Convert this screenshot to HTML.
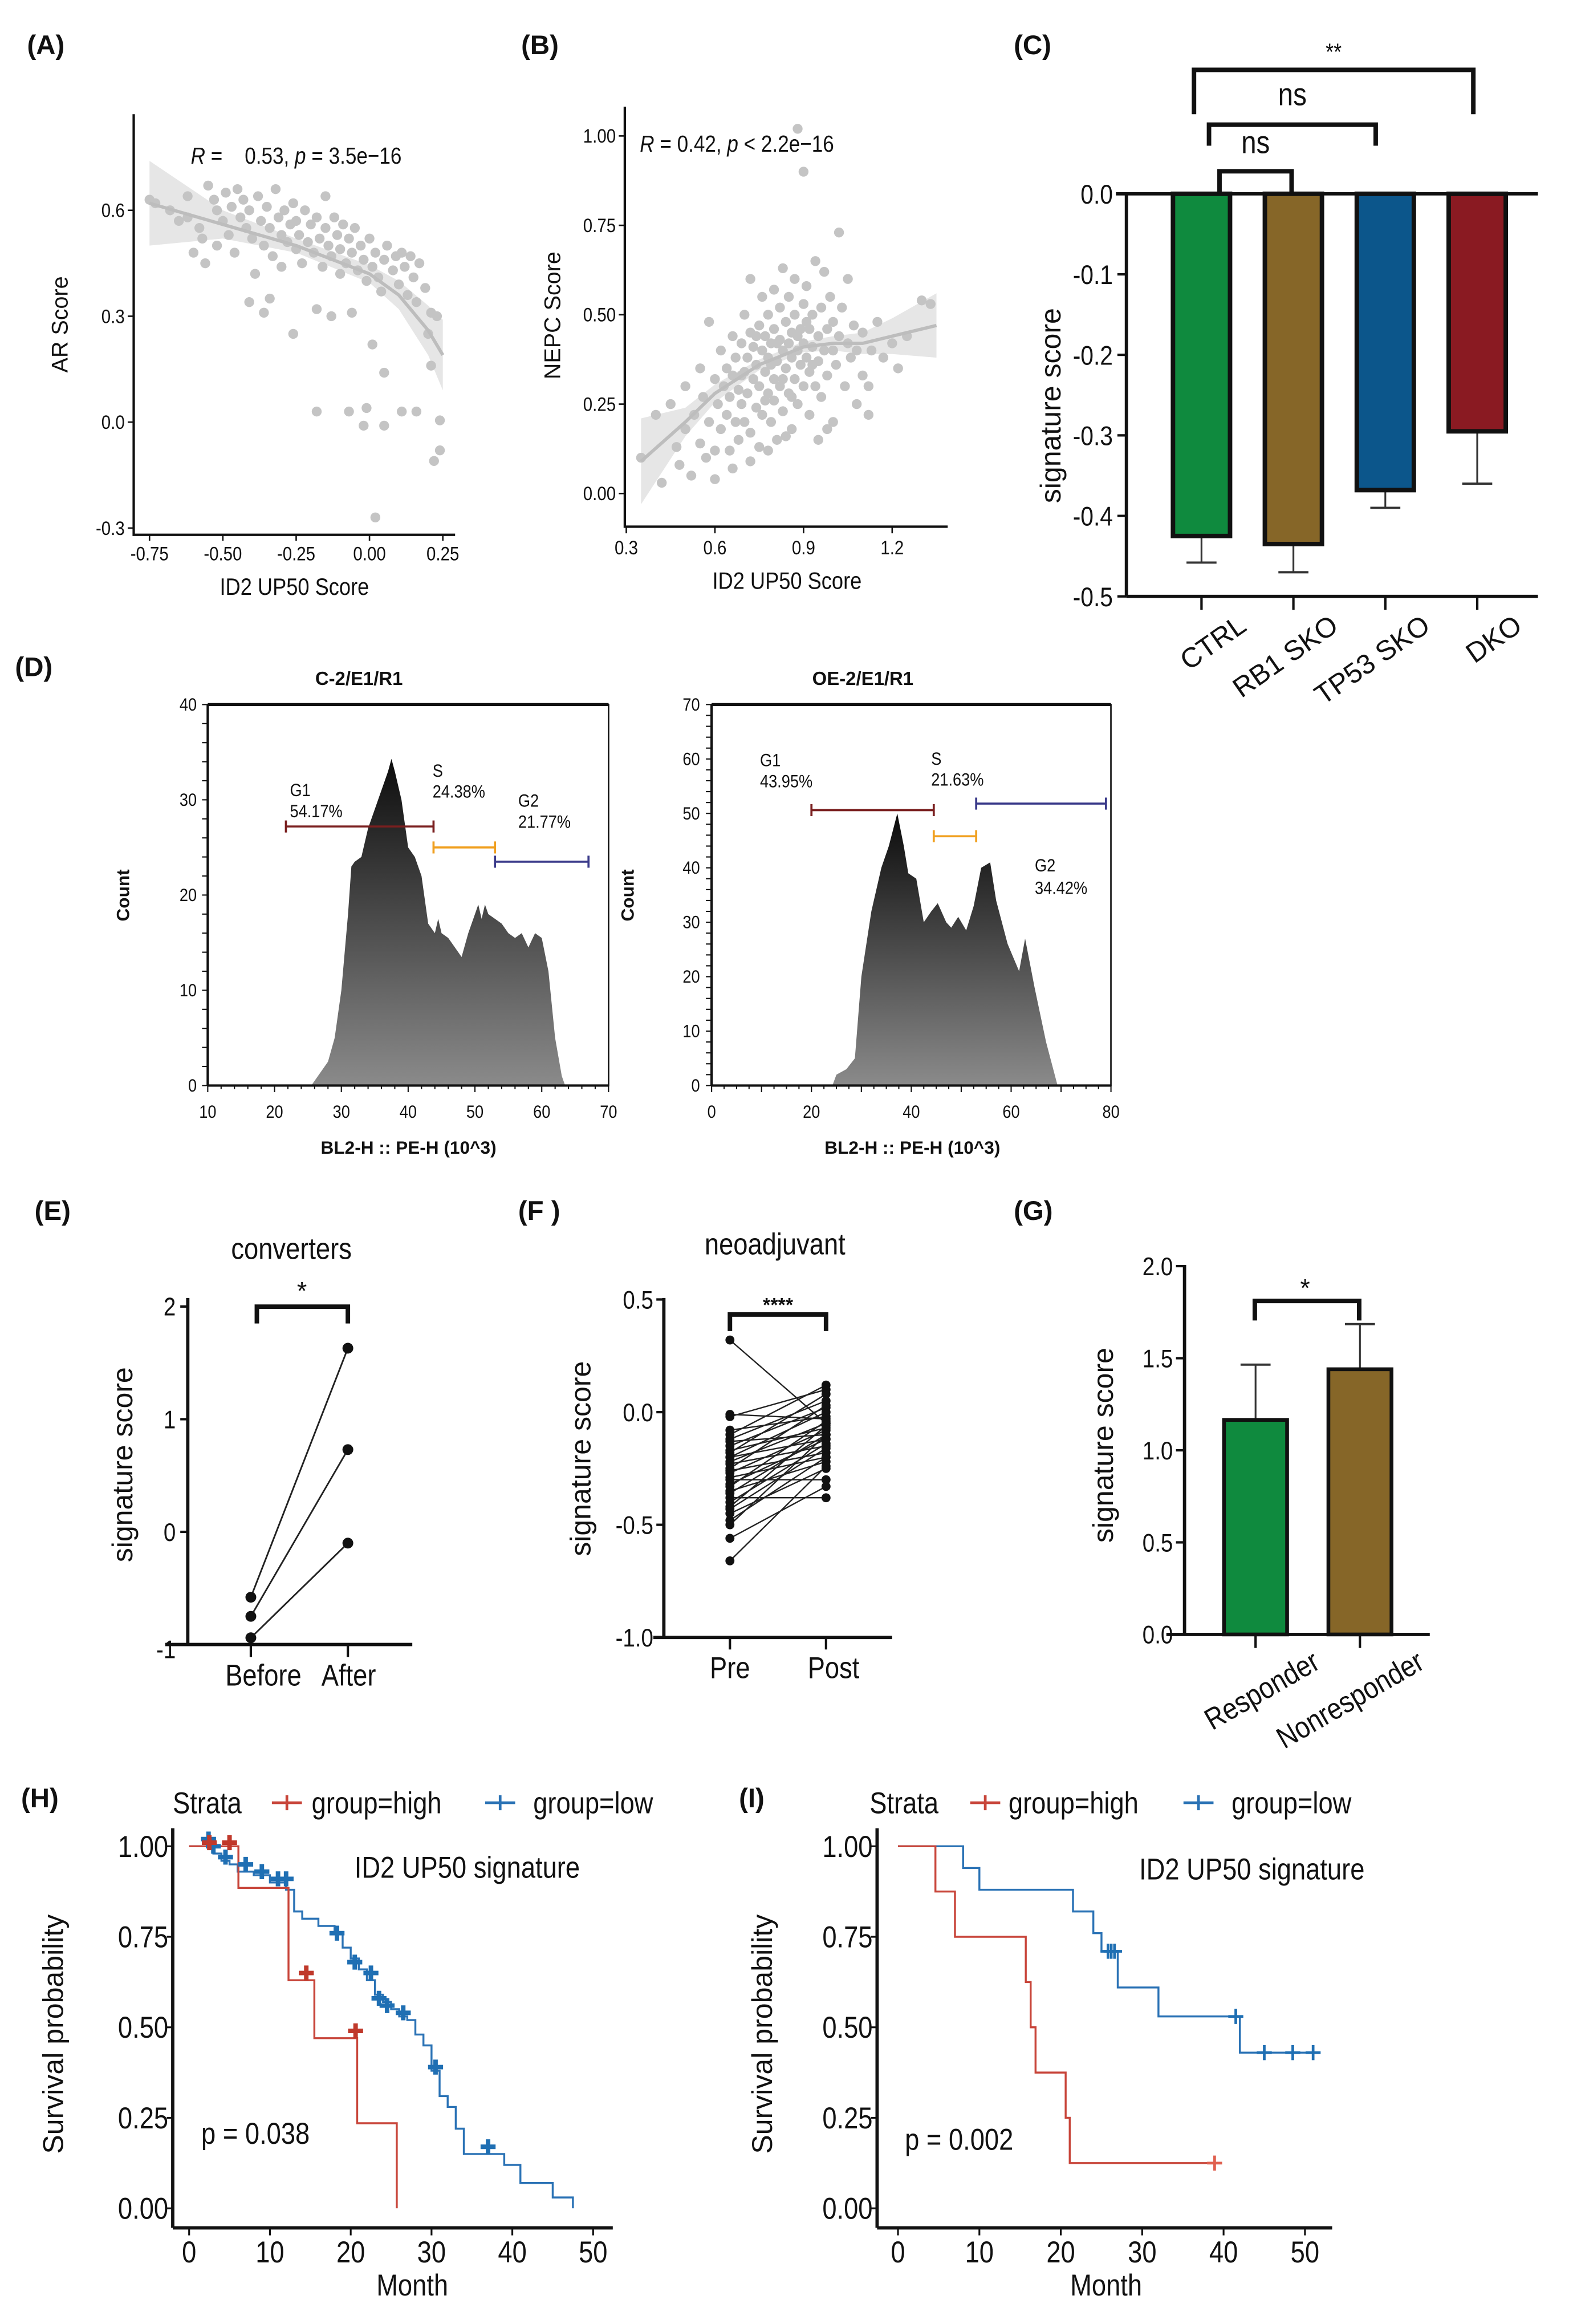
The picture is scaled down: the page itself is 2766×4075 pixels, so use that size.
<!DOCTYPE html>
<html><head><meta charset="utf-8">
<style>
html,body{margin:0;padding:0;background:#fff;}
svg{display:block;}
text{font-family:"Liberation Sans",Arial,sans-serif;fill:#111;}
.n{font-family:"Liberation Sans Narrow","Liberation Sans",sans-serif;}
</style></head>
<body>
<svg id="fig" xmlns="http://www.w3.org/2000/svg" width="2766" height="4075" viewBox="0 0 1050 1547">
<defs>
<linearGradient id="gL" gradientUnits="userSpaceOnUse" x1="0" y1="500" x2="0" y2="722"><stop offset="0" stop-color="#0a0a0a"/><stop offset="1" stop-color="#8a8a8a"/></linearGradient>
<linearGradient id="gR" gradientUnits="userSpaceOnUse" x1="0" y1="540" x2="0" y2="722"><stop offset="0" stop-color="#0a0a0a"/><stop offset="1" stop-color="#8a8a8a"/></linearGradient>
</defs>
<rect x="0" y="0" width="1050" height="1547" fill="#fff"/>
<text x="18" y="36" font-size="18" font-weight="bold">(A)</text>
<text x="347" y="36" font-size="18" font-weight="bold">(B)</text>
<text x="675" y="36" font-size="18" font-weight="bold">(C)</text>
<text x="10" y="450" font-size="18" font-weight="bold">(D)</text>
<text x="23" y="812" font-size="18" font-weight="bold">(E)</text>
<text x="345" y="812" font-size="18" font-weight="bold">(F )</text>
<text x="675" y="812" font-size="18" font-weight="bold">(G)</text>
<text x="14" y="1203" font-size="18" font-weight="bold">(H)</text>
<text x="492" y="1203" font-size="18" font-weight="bold">(I)</text>
<g id="root"></g>
</svg>
<script>
// ===== DATA =====
const aX=[-0.75,-0.62,-0.73,-0.68,-0.62,-0.58,-0.57,-0.55,-0.53,-0.52,-0.50,-0.49,-0.48,-0.47,-0.46,-0.45,-0.44,-0.43,-0.42,-0.41,-0.40,-0.39,-0.38,-0.37,-0.36,-0.35,-0.34,-0.33,-0.32,-0.31,-0.30,-0.30,-0.29,-0.28,-0.27,-0.26,-0.25,-0.25,-0.24,-0.23,-0.22,-0.21,-0.20,-0.19,-0.18,-0.17,-0.16,-0.15,-0.15,-0.14,-0.13,-0.12,-0.11,-0.10,-0.10,-0.09,-0.08,-0.07,-0.06,-0.05,-0.04,-0.03,-0.02,-0.01,0.00,0.01,0.02,0.03,0.04,0.05,0.06,0.08,0.09,0.10,0.11,0.12,0.13,0.14,0.15,0.16,0.17,0.19,0.20,0.21,0.23,-0.41,-0.36,-0.34,-0.18,-0.13,-0.06,-0.26,-0.18,-0.07,-0.01,-0.02,0.05,0.11,0.16,0.24,0.24,0.22,0.02,0.01,0.05,0.21,-0.60,-0.56,-0.52,-0.65];
const aY=[0.63,0.64,0.62,0.60,0.58,0.55,0.52,0.67,0.63,0.60,0.57,0.65,0.53,0.61,0.48,0.66,0.58,0.63,0.55,0.60,0.52,0.42,0.64,0.57,0.50,0.61,0.55,0.47,0.66,0.58,0.53,0.44,0.60,0.51,0.56,0.62,0.49,0.57,0.53,0.45,0.60,0.51,0.56,0.48,0.58,0.52,0.44,0.55,0.64,0.50,0.47,0.58,0.53,0.42,0.49,0.56,0.45,0.52,0.48,0.55,0.43,0.50,0.46,0.40,0.52,0.44,0.48,0.41,0.37,0.46,0.50,0.43,0.47,0.39,0.48,0.44,0.36,0.47,0.41,0.34,0.45,0.38,0.25,0.31,0.30,0.34,0.31,0.35,0.32,0.30,0.31,0.25,0.03,0.03,0.04,-0.01,-0.01,0.03,0.03,0.005,-0.08,-0.11,-0.27,0.22,0.14,0.16,0.48,0.45,0.50,0.57];
const aFitX=[-0.75,-0.5,-0.25,0,0.1,0.2,0.25];
const aFitY=[0.62,0.56,0.50,0.42,0.36,0.26,0.19];
const aFitSE=[0.12,0.04,0.02,0.025,0.04,0.07,0.1];
const aTicksX=[-0.75,-0.5,-0.25,0,0.25], aTickLabX=["-0.75","-0.50","-0.25","0.00","0.25"];
const aTicksY=[0.6,0.3,0,-0.3], aTickLabY=["0.6","0.3","0.0","-0.3"];
const bPts=[[0.35,0.1],[0.4,0.22],[0.42,0.03],[0.45,0.25],[0.47,0.13],[0.48,0.08],[0.5,0.3],[0.5,0.18],[0.52,0.05],[0.53,0.22],[0.55,0.35],[0.55,0.14],[0.56,0.27],[0.57,0.1],[0.58,0.48],[0.58,0.2],[0.6,0.32],[0.6,0.12],[0.6,0.04],[0.61,0.25],[0.62,0.4],[0.62,0.18],[0.63,0.3],[0.64,0.35],[0.64,0.22],[0.65,0.27],[0.65,0.12],[0.66,0.44],[0.66,0.33],[0.67,0.2],[0.67,0.38],[0.68,0.29],[0.68,0.15],[0.69,0.42],[0.69,0.25],[0.7,0.34],[0.7,0.5],[0.7,0.2],[0.71,0.38],[0.71,0.28],[0.72,0.45],[0.72,0.6],[0.72,0.17],[0.73,0.32],[0.73,0.41],[0.74,0.24],[0.74,0.36],[0.75,0.47],[0.75,0.3],[0.75,0.13],[0.76,0.4],[0.76,0.55],[0.76,0.22],[0.77,0.34],[0.77,0.44],[0.78,0.28],[0.78,0.5],[0.78,0.38],[0.79,0.2],[0.79,0.42],[0.8,0.32],[0.8,0.57],[0.8,0.46],[0.8,0.26],[0.81,0.37],[0.81,0.15],[0.82,0.43],[0.82,0.52],[0.82,0.3],[0.83,0.4],[0.83,0.63],[0.83,0.23],[0.84,0.35],[0.84,0.48],[0.85,0.28],[0.85,0.42],[0.85,0.55],[0.86,0.38],[0.86,0.18],[0.86,0.45],[0.87,0.5],[0.87,0.32],[0.87,0.6],[0.88,0.4],[0.88,0.25],[0.88,1.02],[0.89,0.46],[0.89,0.36],[0.9,0.9],[0.9,0.53],[0.9,0.3],[0.9,0.42],[0.91,0.38],[0.91,0.58],[0.92,0.46],[0.92,0.22],[0.92,0.34],[0.93,0.5],[0.93,0.41],[0.94,0.3],[0.94,0.65],[0.95,0.44],[0.95,0.37],[0.96,0.52],[0.96,0.27],[0.97,0.4],[0.97,0.62],[0.98,0.46],[0.98,0.33],[0.99,0.55],[1.0,0.4],[1.0,0.2],[1.0,0.48],[1.01,0.36],[1.02,0.73],[1.02,0.44],[1.03,0.52],[1.04,0.3],[1.05,0.42],[1.05,0.6],[1.06,0.38],[1.07,0.47],[1.08,0.25],[1.08,0.4],[1.1,0.33],[1.1,0.45],[1.12,0.22],[1.13,0.4],[1.15,0.48],[1.17,0.38],[1.2,0.42],[1.22,0.35],[1.3,0.54],[1.33,0.53],[1.25,0.44],[0.66,0.07],[0.72,0.09],[0.78,0.12],[0.84,0.16],[0.95,0.15],[0.98,0.18],[1.12,0.3],[0.74,0.44],[0.79,0.36],[0.83,0.32],[0.88,0.44],[0.91,0.48],[0.77,0.26],[0.69,0.33],[0.86,0.27],[0.93,0.36],[0.81,0.42]];
const bFitX=[0.35,0.5,0.6,0.75,0.9,1.0,1.1,1.2,1.35];
const bFitY=[0.09,0.2,0.28,0.36,0.41,0.42,0.42,0.44,0.47];
const bFitSE=[0.12,0.04,0.025,0.015,0.015,0.02,0.03,0.05,0.09];
const bTicksX=[0.3,0.6,0.9,1.2], bTickLabX=["0.3","0.6","0.9","1.2"];
const bTicksY=[1,0.75,0.5,0.25,0], bTickLabY=["1.00","0.75","0.50","0.25","0.00"];
const cCats=["CTRL","RB1 SKO","TP53 SKO","DKO"];
const cVals=[-0.425,-0.435,-0.368,-0.295];
const cErr=[-0.458,-0.470,-0.390,-0.360];
const cColors=["#0f8a3e","#866628","#0c568b","#8a1a22"];
const cTicks=[0,-0.1,-0.2,-0.3,-0.4,-0.5], cTickLab=["0.0","-0.1","-0.2","-0.3","-0.4","-0.5"];
const dLX=[25.5,27,28,29,30,31,31.5,32,33,34,35,36,37,37.5,38,39,40,41,42,43,44,44.5,45,46,47,48,49,50,50.5,51,51.5,52,53,54,55,56,57,58,59,60,61,62,63,63.5];
const dLY=[0,1.5,2.5,5,10,18,23,23.5,24,27,29,31,33,34.3,33,30,25,24,22,17,16,17.5,16,15.5,14.5,13.5,16,18,19,17.5,19,18,17.5,17,16,15.5,16,14.5,16,15.5,12,5,1,0];
const dRX=[24.2,25,27,28.7,30,32,34,35.5,37.2,38.5,39.4,41,42.5,44,45.3,47,48,49.4,51,52.5,54,55.8,57,59.3,61.6,62.8,64.7,67,69.3];
const dRY=[0,2,3,5,20,32,40,44,50,44,39,38,30,32,33.5,30,29,31,28.5,33,40,41,34,26,21,27,18,8,0];
const eBefore=[-0.58,-0.75,-0.94], eAfter=[1.63,0.73,-0.10];
const fPre=[0.32,-0.01,-0.02,-0.08,-0.1,-0.12,-0.13,-0.15,-0.17,-0.18,-0.2,-0.2,-0.22,-0.23,-0.25,-0.26,-0.27,-0.29,-0.3,-0.32,-0.33,-0.35,-0.36,-0.38,-0.4,-0.42,-0.43,-0.45,-0.48,-0.5,-0.56,-0.66];
const fPost=[-0.05,-0.03,0.1,-0.02,0.12,0.05,-0.1,0.02,-0.07,0.08,-0.12,0.0,-0.05,-0.15,0.03,-0.18,-0.08,-0.2,-0.3,-0.12,-0.04,-0.22,-0.1,-0.38,-0.14,-0.06,-0.16,-0.25,-0.2,-0.1,-0.33,-0.24];
const gCats=["Responder","Nonresponder"], gVals=[1.165,1.44], gErr=[1.465,1.685], gColors=["#0f8a3e","#866628"];
const hHighT=[6.1,12.3,15.5,20.8,25.7], hHighS=[0.885,0.63,0.47,0.235,0];
const hHighCT=[2.5,5,14.5,20.6], hHighCS=[1.01,1.01,0.65,0.49];
const hLowT=[3,4,5,6,8,10,12,13,14,16,18,19,20,21,22,23,24,25,26,27,28,29,30,31,32,33,34,36,39,41,45,47.5];
const hLowS=[0.98,0.96,0.95,0.93,0.92,0.9,0.88,0.82,0.8,0.78,0.76,0.72,0.69,0.66,0.63,0.59,0.57,0.55,0.53,0.52,0.48,0.45,0.38,0.31,0.28,0.22,0.15,0.15,0.12,0.07,0.03,0];
const hLowCT=[2.4,3,4.5,7,9,11,12,18.3,20.5,22.5,23.5,24.5,26.5,30.5,37];
const hLowCS=[1.02,1.0,0.97,0.95,0.93,0.91,0.91,0.76,0.68,0.65,0.58,0.56,0.54,0.39,0.17];
const iHighT=[4.6,7,15.7,16.3,16.9,20.6,21.1], iHighS=[0.875,0.75,0.625,0.5,0.375,0.25,0.125], iHighEnd=39;
const iHighCT=[38.9], iHighCS=[0.125];
const iLowT=[8,10,21.5,24,25,27,32,42], iLowS=[0.94,0.88,0.82,0.76,0.71,0.61,0.53,0.43], iLowEnd=51.5;
const iLowCT=[25.8,26.2,26.6,41.5,45,48.5,51], iLowCS=[0.71,0.71,0.71,0.53,0.43,0.43,0.43];
const kmTicksX=[0,10,20,30,40,50], kmTicksY=[1,0.75,0.5,0.25,0], kmTickLabY=["1.00","0.75","0.50","0.25","0.00"];

// ===== DRAW =====
const NS="http://www.w3.org/2000/svg";
const root=document.getElementById("root");
const SX=0.86;
function mk(tag,attrs,parent){const e=document.createElementNS(NS,tag);for(const k in attrs)e.setAttribute(k,attrs[k]);(parent||root).appendChild(e);return e;}
function tx(x,y,s,size,extra){
 const ex=Object.assign({},extra||{});
 let a;
 if(ex["class"]=="n"){
  if(ex.transform){ex.transform=ex.transform+" scale("+SX+",1)";a=Object.assign({x:x,y:y,"font-size":size},ex);}
  else{ex.transform="translate("+x+","+y+") scale("+SX+",1)";a=Object.assign({x:0,y:0,"font-size":size},ex);}
 } else a=Object.assign({x:x,y:y,"font-size":size},ex);
 const t=mk("text",a);t.textContent=s;return t;}
function ln(x1,y1,x2,y2,w,c){return mk("line",{x1:x1,y1:y1,x2:x2,y2:y2,stroke:c||"#111","stroke-width":w||1});}

// ---- A ----
const ax=v=>246+v*195.3, ay=v=>281-v*235;
{
 let up="",dn="";
 aFitX.forEach((x,i)=>{up+=(i?"L":"M")+ax(x)+","+ay(aFitY[i]+aFitSE[i]);});
 for(let i=aFitX.length-1;i>=0;i--)dn+="L"+ax(aFitX[i])+","+ay(aFitY[i]-aFitSE[i]);
 const band=mk("path",{d:up+dn+"Z",fill:"#e6e6e6"});
 
 
 aX.forEach((x,i)=>{const c=mk("circle",{cx:ax(x),cy:ay(aY[i]),r:3.3,fill:"#c4c4c4"});
  
  });
 let d="";aFitX.forEach((x,i)=>{d+=(i?"L":"M")+ax(x)+","+ay(aFitY[i]);});
 const fl=mk("path",{d:d,fill:"none",stroke:"#bdbdbd","stroke-width":2.2});
 
 
 const axl=mk("path",{d:"M89,76 V356 H303",fill:"none",stroke:"#111","stroke-width":1.6});
 
 
 aTicksX.forEach((v,i)=>{ln(ax(v),356,ax(v),360,1);const t=tx(ax(v),373,aTickLabX[i],13,{"text-anchor":"middle",fill:"#444",class:"n"});
  
  });
 aTicksY.forEach((v,i)=>{ln(85,ay(v),89,ay(v),1);const t=tx(83,ay(v)+4.5,aTickLabY[i],13,{"text-anchor":"end",fill:"#444",class:"n"});
  
  });
 const xt=tx(196,396,"ID2 UP50 Score",16,{"text-anchor":"middle",class:"n"});
 
 
 const yt=tx(0,0,"AR Score",15,{"text-anchor":"middle",transform:"translate(45,216) rotate(-90)"});
 
 
 const r=mk("text",{x:0,y:0,"font-size":15.5,class:"n",transform:"translate(127,109) scale("+SX+",1)",style:"white-space:pre"});
 r.innerHTML='<tspan font-style="italic">R</tspan> =    0.53, <tspan font-style="italic">p</tspan> = 3.5e\u221216';
 
 
}
// ---- B ----
const bx=v=>417+(v-0.3)*196.7, by=v=>328.5-v*238;
{
 let up="",dn="";
 bFitX.forEach((x,i)=>{up+=(i?"L":"M")+bx(x)+","+by(bFitY[i]+bFitSE[i]);});
 for(let i=bFitX.length-1;i>=0;i--)dn+="L"+bx(bFitX[i])+","+by(bFitY[i]-bFitSE[i]);
 const band=mk("path",{d:up+dn+"Z",fill:"#e6e6e6"});
 
 
 bPts.forEach(p=>{const c=mk("circle",{cx:bx(p[0]),cy:by(p[1]),r:3.3,fill:"#c4c4c4"});
  
  });
 let d="";bFitX.forEach((x,i)=>{d+=(i?"L":"M")+bx(x)+","+by(bFitY[i]);});
 const fl=mk("path",{d:d,fill:"none",stroke:"#bdbdbd","stroke-width":2.2});
 
 
 const axl=mk("path",{d:"M416,71 V350.6 H631",fill:"none",stroke:"#111","stroke-width":1.6});
 
 
 bTicksX.forEach((v,i)=>{ln(bx(v),350.6,bx(v),355,1);const t=tx(bx(v),369,bTickLabX[i],13,{"text-anchor":"middle",fill:"#444",class:"n"});
  
  });
 bTicksY.forEach((v,i)=>{ln(412,by(v),416,by(v),1);const t=tx(410,by(v)+4.5,bTickLabY[i],13,{"text-anchor":"end",fill:"#444",class:"n"});
  
  });
 const xt=tx(524,392,"ID2 UP50 Score",16,{"text-anchor":"middle",class:"n"});
 
 
 const yt=tx(0,0,"NEPC Score",15,{"text-anchor":"middle",transform:"translate(373,210) rotate(-90)"});
 
 
 const r=mk("text",{x:0,y:0,"font-size":15.5,class:"n",transform:"translate(426,101) scale("+SX+",1)"});
 r.innerHTML='<tspan font-style="italic">R</tspan> = 0.42, <tspan font-style="italic">p</tspan> &lt; 2.2e\u221216';
 
 
}
// ---- C ----
const cy=v=>129-v*536;
const cX=i=>800+i*61.2;
{
 cCats.forEach((c,i)=>{
  const x=cX(i);
  const e=ln(x,cy(cVals[i]),x,cy(cErr[i]),1.2,"#333");
  
  
  const cap=ln(x-10,cy(cErr[i]),x+10,cy(cErr[i]),1.5,"#333");
  
  
  const b=mk("rect",{x:x-19,y:cy(0),width:38,height:cy(cVals[i])-cy(0),fill:cColors[i],stroke:"#111","stroke-width":3});
  
  
  ln(x,397,x,406,1.6);
  const t=tx(0,0,c,18.5,{"text-anchor":"end",transform:"translate("+(x+31)+",419) rotate(-35)"});
  
  
 });
 const axl=mk("path",{d:"M743,129 H1024 M750,129 V397 M750,397 H1024",fill:"none",stroke:"#111","stroke-width":2.2});
 
 
 cTicks.forEach((v,i)=>{ln(744,cy(v),750,cy(v),1.6);const t=tx(741,cy(v)+6.5,cTickLab[i],18,{"text-anchor":"end",class:"n"});
  
  });
 const yt=tx(0,0,"signature score",19,{"text-anchor":"middle",transform:"translate(706,270) rotate(-90)"});
 
 
 const br=[[0,1,114,129,"ns",102],[0,2,83,97,"ns",70],[-0.08,3,46.5,76,"**",40]];
 br.forEach((b,k)=>{
  const x1=k==0?812:(k==1?805:795), x2=k==0?860:(k==1?916:981);
  const p=mk("path",{d:"M"+x1+","+b[3]+" V"+b[2]+" H"+x2+" V"+b[3],fill:"none",stroke:"#111","stroke-width":3});
  
  
  const t=tx((x1+x2)/2,b[5],b[4],b[4]=="**"?16:21,{"text-anchor":"middle",class:"n"});
  
  
 });
}
// ---- D ----
function hist(xs,ys,fx,fy,grad,name){
 let d="M"+fx(xs[0])+","+fy(0);
 xs.forEach((x,i)=>{d+="L"+fx(x)+","+fy(ys[i]);});
 d+="L"+fx(xs[xs.length-1])+","+fy(0)+"Z";
 const p=mk("path",{d:d,fill:grad});
 
 
}
const dlx=v=>138.3+(v-10)*4.448, dly=v=>722.6-v*6.34;
const drx=v=>473.8+v*3.324, dry=v=>722.6-v*3.623;
{
 hist(dLX,dLY,dlx,dly,"url(#gL)","d-left-histogram");
 hist(dRX,dRY,drx,dry,"url(#gR)","d-right-histogram");
 const bl=mk("rect",{x:138.3,y:469,width:266.9,height:253.6,fill:"none",stroke:"#111","stroke-width":1});
 
 
 ln(138.3,469,405.2,469,2);ln(138.3,469,138.3,722.6,1.6);ln(138.3,722.6,405.2,722.6,1.6);
 const br2=mk("rect",{x:473.8,y:469,width:265.9,height:253.6,fill:"none",stroke:"#111","stroke-width":1});
 
 
 ln(473.8,469,739.7,469,2);ln(473.8,469,473.8,722.6,1.6);ln(473.8,722.6,739.7,722.6,1.6);
 for(let v=10;v<=70;v+=2)ln(dlx(v),722.6,dlx(v),v%10==0?727:725,0.8);
 for(let v=0;v<=40;v+=2)ln(134.5,dly(v),138.3,dly(v),0.8);
 for(let v=0;v<=80;v+=2.5)ln(drx(v),722.6,drx(v),v%10==0?727:725,0.8);
 for(let v=0;v<=70;v+=2)ln(470,dry(v),473.8,dry(v),0.8);
 for(let v=10;v<=70;v+=10){const t=tx(dlx(v),744,String(v),12,{"text-anchor":"middle",class:"n"});
  
  }
 for(let v=0;v<=40;v+=10){const t=tx(131,dly(v)+4,String(v),12,{"text-anchor":"end",class:"n"});
  
  }
 for(let v=0;v<=80;v+=20){const t=tx(drx(v),744,String(v),12,{"text-anchor":"middle",class:"n"});
  
  }
 for(let v=0;v<=70;v+=10){const t=tx(466,dry(v)+4,String(v),12,{"text-anchor":"end",class:"n"});
  
  }
 [["C-2/E1/R1",239],["OE-2/E1/R1",574.5]].forEach(a=>{const t=tx(a[1],456,a[0],12.5,{"text-anchor":"middle","font-weight":"bold"});
  
  });
 [[272],[607.5]].forEach(a=>{const t=tx(a[0],768,"BL2-H :: PE-H (10^3)",12,{"text-anchor":"middle","font-weight":"bold"});
  
  });
 [[86],[422]].forEach(a=>{const t=tx(0,0,"Count",12,{"text-anchor":"middle","font-weight":"bold",transform:"translate("+a[0]+",596) rotate(-90)"});
  
  });
 const gates=[[21.7,43.8,27.2,"#7a1f1f",dlx,dly],[43.8,53,25,"#f0a020",dlx,dly],[53,67,23.5,"#3a3a8a",dlx,dly],
   [20,44.5,50.6,"#7a1f1f",drx,dry],[44.5,53,45.8,"#f0a020",drx,dry],[53,79,51.8,"#3a3a8a",drx,dry]];
 gates.forEach(g=>{const y=g[5](g[2]);
  const p=mk("path",{d:"M"+g[4](g[0])+","+(y-4)+"V"+(y+4)+"M"+g[4](g[0])+","+y+"H"+g[4](g[1])+"M"+g[4](g[1])+","+(y-4)+"V"+(y+4),stroke:g[3],"stroke-width":1.4,fill:"none"});
  
  });
 const labs=[[193,530,"G1","#7a1f1f"],[193,544,"54.17%","#7a1f1f"],[288,517,"S","#e69a1a"],[288,531,"24.38%","#e69a1a"],[345,537,"G2","#3a3a8a"],[345,551,"21.77%","#3a3a8a"],
   [506,510,"G1","#7a1f1f"],[506,524,"43.95%","#7a1f1f"],[620,509,"S","#e69a1a"],[620,523,"21.63%","#e69a1a"],[689,580,"G2","#3a3a8a"],[689,595,"34.42%","#3a3a8a"]];
 labs.forEach(l=>{const t=tx(l[0],l[1],l[2],12,{fill:l[3],class:"n"});
  
  });
}
// ---- E ----
const ey=v=>1019.7-v*75;
{
 const bxp=167, axp=231.6;
 eBefore.forEach((v,i)=>{
  const l=ln(bxp,ey(v),axp,ey(eAfter[i]),1.1,"#222");
  
  
  [[bxp,v],[axp,eAfter[i]]].forEach(p=>{const c=mk("circle",{cx:p[0],cy:ey(p[1]),r:3.6,fill:"#111"});
   
   });
 });
 const axl=mk("path",{d:"M125,864 V1094.7 M110,1094.7 H274.5",fill:"none",stroke:"#111","stroke-width":2.2});
 
 
 ln(bxp,1094.7,bxp,1103,1.6);ln(axp,1094.7,axp,1103,1.6);
 [2,1,0,-1].forEach(v=>{ln(120,ey(v),125,ey(v),1.6);const t=tx(117,ey(v)+(v==-1?9:6),String(v),17,{"text-anchor":"end",class:"n"});
  
  });
 const p=mk("path",{d:"M171,881 V869.8 H231.6 V881",fill:"none",stroke:"#111","stroke-width":3});
 
 
 const s=tx(201,865,"*",17,{"text-anchor":"middle"});
 
 
 const t1=tx(194,838,"converters",20,{"text-anchor":"middle",class:"n"});
 
 
 const c1=tx(150,1122,"Before",20,{class:"n"});
 
 
 const c2=tx(214,1122,"After",20,{class:"n"});
 
 
 const yt=tx(0,0,"signature score",19,{"text-anchor":"middle",transform:"translate(88,975) rotate(-90)"});
 
 
}
// ---- F ----
const fy=v=>940-v*150;
{
 const px=486, qx=550;
 fPre.forEach((v,i)=>{
  const l=ln(px,fy(v),qx,fy(fPost[i]),0.9,"#222");
  
  
 });
 fPre.forEach((v,i)=>{[[px,v],[qx,fPost[i]]].forEach(p=>{const c=mk("circle",{cx:p[0],cy:fy(p[1]),r:3,fill:"#111"});
   
   });});
 const axl=mk("path",{d:"M442,864 V1090 M435,1090 H594",fill:"none",stroke:"#111","stroke-width":2.2});
 
 
 ln(px,1090,px,1098,1.6);ln(qx,1090,qx,1098,1.6);
 [[0.5,"0.5"],[0,"0.0"],[-0.5,"-0.5"],[-1,"-1.0"]].forEach(a=>{ln(437,fy(a[0]),442,fy(a[0]),1.6);const t=tx(435,fy(a[0])+6,a[1],17,{"text-anchor":"end",class:"n"});
  
  });
 const p=mk("path",{d:"M486,886 V875 H550 V886",fill:"none",stroke:"#111","stroke-width":3});
 
 
 const s=tx(518,873,"****",13,{"text-anchor":"middle","font-weight":"bold"});
 
 
 const t1=tx(516,835,"neoadjuvant",20,{"text-anchor":"middle",class:"n"});
 
 
 const c1=tx(px,1117,"Pre",20,{"text-anchor":"middle",class:"n"});
 
 
 const c2=tx(qx+5,1117,"Post",20,{"text-anchor":"middle",class:"n"});
 
 
 const yt=tx(0,0,"signature score",19,{"text-anchor":"middle",transform:"translate(393,971) rotate(-90)"});
 
 
}
// ---- G ----
const gy=v=>1088-v*122.6;
{
 const gx=[836,905.5];
 gCats.forEach((c,i)=>{
  const x=gx[i];
  const e=ln(x,gy(gVals[i]),x,gy(gErr[i]),1.2,"#333");
  
  
  const cap=ln(x-10,gy(gErr[i]),x+10,gy(gErr[i]),1.5,"#333");
  
  
  const b=mk("rect",{x:x-21,y:gy(gVals[i]),width:42,height:gy(0)-gy(gVals[i]),fill:gColors[i],stroke:"#111","stroke-width":2.5});
  
  
  ln(x,1088,x,1097,1.6);
  const t=tx(0,0,c,20,{"text-anchor":"end",transform:"translate("+(x+44)+",1110) rotate(-30)",class:"n"});
  
  
 });
 const axl=mk("path",{d:"M788.7,842 V1088 M776.6,1088 H952",fill:"none",stroke:"#111","stroke-width":2.2});
 
 
 [[2,"2.0"],[1.5,"1.5"],[1,"1.0"],[0.5,"0.5"],[0,"0.0"]].forEach(a=>{ln(783,gy(a[0]),788.7,gy(a[0]),1.6);const t=tx(781,gy(a[0])+6,a[1],17,{"text-anchor":"end",class:"n"});
  
  });
 const p=mk("path",{d:"M835.5,879 V866 H905 V879",fill:"none",stroke:"#111","stroke-width":3});
 
 
 const s=tx(869,863,"*",17,{"text-anchor":"middle"});
 
 
 const yt=tx(0,0,"signature score",19,{"text-anchor":"middle",transform:"translate(741,962) rotate(-90)"});
 
 
}
// ---- H / I ----
function km(fx,fy,T,S,end,color,name){
 let d="M"+fx(0)+","+fy(1);
 T.forEach((t,i)=>{d+="H"+fx(t)+"V"+fy(S[i]);});
 if(end!=null)d+="H"+fx(end);
 const p=mk("path",{d:d,fill:"none",stroke:color,"stroke-width":1.3});
 
 
}
function cens(fx,fy,T,S,color,w,sz,name){
 T.forEach((t,i)=>{const x=fx(t),y=fy(S[i]);
  const p=mk("path",{d:"M"+(x-sz)+","+y+"H"+(x+sz)+"M"+x+","+(y-sz)+"V"+(y+sz),stroke:color,"stroke-width":w,fill:"none"});
  
  });
}
const kmy=v=>1470-v*241;
const hx=v=>125.9+v*5.38, ix=v=>597.9+v*5.42;
function kmAxes(fx,ax0,ax1,pre,lblX,lblY){
 const axl=mk("path",{d:"M"+ax0+",1217 V1483 M"+ax0+",1483 H"+ax1,fill:"none",stroke:"#111","stroke-width":2.2});
 
 
 kmTicksX.forEach(v=>{ln(fx(v),1483,fx(v),1488,1.2);const t=tx(fx(v),1506,String(v),20,{"text-anchor":"middle",class:"n"});
  
  });
 kmTicksY.forEach((v,i)=>{ln(ax0-4,kmy(v),ax0,kmy(v),1.2);const t=tx(ax0-3,kmy(v)+7,kmTickLabY[i],20,{"text-anchor":"end",class:"n"});
  
  });
 const xt=tx(lblX,1528,"Month",20,{"text-anchor":"middle",class:"n"});
 
 
 const yt=tx(0,0,"Survival probability",19,{"text-anchor":"middle",transform:"translate("+lblY+",1354) rotate(-90)"});
 
 
}
function legend(x0,xr,xh,xb,xl,pre){
 const s=tx(x0,1207,"Strata",20,{class:"n"});
 
 
 [[xr,"#c8453a",xh,"group=high"],[xb,"#2a72b5",xl,"group=low"]].forEach(a=>{
  const p=mk("path",{d:"M"+(a[0]-10)+",1200H"+(a[0]+10)+"M"+a[0]+",1195V1205",stroke:a[1],"stroke-width":1.8,fill:"none"});
  
  
  const t=tx(a[2],1207,a[3],20,{class:"n"});
  
  
 });
}
{
 kmAxes(hx,115,408,"h",274.5,42);
 km(hx,kmy,hLowT,hLowS,null,"#2a72b5","h-curve-low");
 km(hx,kmy,hHighT,hHighS,null,"#c8453a","h-curve-high");
 cens(hx,kmy,hLowCT,hLowCS,"#1f6fb3",3,5,"h-censor-low");
 cens(hx,kmy,hHighCT,hHighCS,"#c0392b",3,5,"h-censor-high");
 legend(115,191,207.5,333,355,"h");
 const s=tx(236,1250,"ID2 UP50 signature",20,{class:"n"});
 
 
 const p=tx(134,1427,"p = 0.038",20,{class:"n"});
 
 

 kmAxes(ix,584,887,"i",736.5,514);
 km(ix,kmy,iLowT,iLowS,iLowEnd,"#2a72b5","i-curve-low");
 km(ix,kmy,iHighT,iHighS,iHighEnd,"#c8453a","i-curve-high");
 cens(ix,kmy,iLowCT,iLowCS,"#1f6fb3",1.8,5,"i-censor-low");
 cens(ix,kmy,iHighCT,iHighCS,"#e0604f",1.8,5,"i-censor-high");
 legend(579,656,671.5,798,820,"i");
 const s2=tx(758.5,1251,"ID2 UP50 signature",20,{class:"n"});
 
 
 const p2=tx(602.5,1431,"p = 0.002",20,{class:"n"});
 
 
}
</script>
</body></html>
